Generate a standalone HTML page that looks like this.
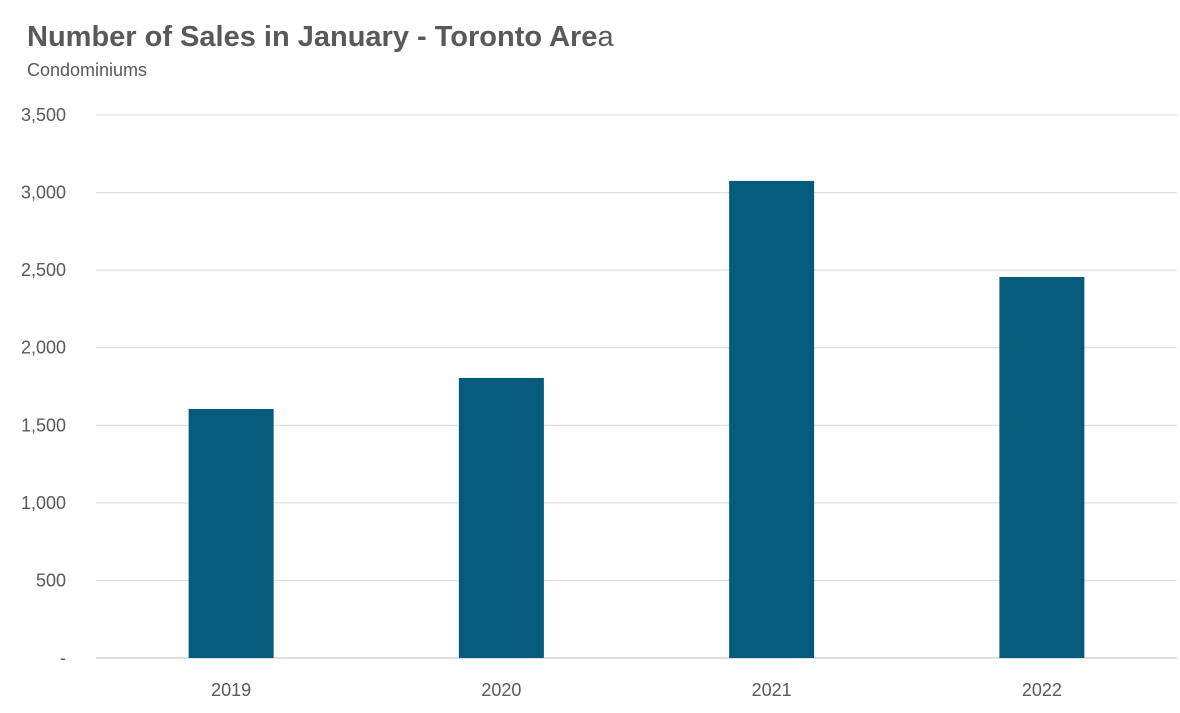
<!DOCTYPE html>
<html><head><meta charset="utf-8"><style>
body{margin:0;background:#fff;font-family:"Liberation Sans",Arial,sans-serif;}
svg{display:block}
</style></head><body>
<svg id="chart" width="1180" height="713">
<text x="27" y="46" font-size="29" font-weight="bold" fill="#595959">Number of Sales in January - Toronto Are<tspan font-weight="normal">a</tspan></text>
<text x="27" y="76" font-size="18" fill="#595959">Condominiums</text>
<g id="grid"></g><g id="bars"></g><g id="labels"></g>
</svg>
<script>
const categories=["2019","2020","2021","2022"];
const sales=[1605,1805,3075,2456];
const yTicks=[0,500,1000,1500,2000,2500,3000,3500];
const yTickLabels=["-","500","1,000","1,500","2,000","2,500","3,000","3,500"];
const NS="http://www.w3.org/2000/svg";
const x0=96,x1=1177,yBase=658,yTop=115,yMax=3500;
const y=v=>yBase-(v/yMax)*(yBase-yTop);
const band=(x1-x0)/categories.length;
const xc=i=>x0+band*(i+0.5);
const grid=document.getElementById('grid'),bars=document.getElementById('bars'),labels=document.getElementById('labels');
function mk(t,a){const e=document.createElementNS(NS,t);for(const k in a)e.setAttribute(k,a[k]);return e;}
yTicks.forEach((v,i)=>{
 const l=mk('line',{x1:x0,x2:x1,y1:y(v),y2:y(v),stroke:v===0?'#bfbfbf':'#d9d9d9','stroke-width':1});
 
 
 grid.appendChild(l);
 const t=mk('text',{x:66,y:y(v)+6,'text-anchor':'end','font-size':18,fill:'#595959'});
 t.textContent=yTickLabels[i];
 
 
 labels.appendChild(t);
});
categories.forEach((c,i)=>{
 const r=mk('rect',{x:xc(i)-42.5,y:y(sales[i]),width:85,height:yBase-y(sales[i]),fill:'#065a7c'});
 
 
 bars.appendChild(r);
 const t=mk('text',{x:xc(i),y:696,'text-anchor':'middle','font-size':18,fill:'#595959'});
 t.textContent=c;
 
 
 labels.appendChild(t);
});
</script>
</body></html>
